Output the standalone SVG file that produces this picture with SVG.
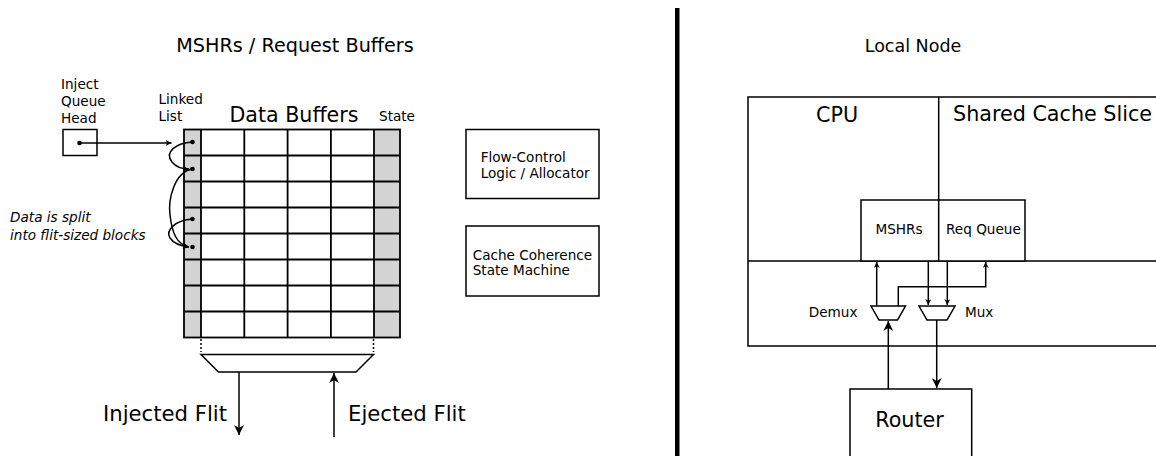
<svg xmlns="http://www.w3.org/2000/svg" width="1156" height="456" viewBox="0 0 1156 456">
  <defs>
    <marker id="arr" viewBox="0 0 10 10" refX="10" refY="5" markerWidth="6" markerHeight="6" markerUnits="userSpaceOnUse" orient="auto">
      <path d="M0,0 L10,5 L0,10 L3,5 Z" fill="#000"/>
    </marker>
    <marker id="arrL" viewBox="0 0 10 10" refX="10" refY="5" markerWidth="10" markerHeight="10" markerUnits="userSpaceOnUse" orient="auto">
      <path d="M0,0 L10,5 L0,10 L3,5 Z" fill="#000"/>
    </marker>
  </defs>
  <style>
    text { font-family: "DejaVu Sans", "Liberation Sans", sans-serif; fill: #000; }
    .box { fill: #fff; stroke: #000; stroke-width: 1.5; }
    .grid { stroke: #000; stroke-width: 1.8; fill: none; }
    .ln { stroke: #000; stroke-width: 1.5; fill: none; }
    .dot { fill: #000; }
    .sm { font-size: 13.6px; }
    .lg { font-size: 20.7px; }
  </style>
  <rect width="1156" height="456" fill="#fff"/>

  <!-- Left panel: MSHRs / request buffers -->
  <text x="295" y="52" font-size="19.2" text-anchor="middle">MSHRs / Request Buffers</text>

  <g id="inject-queue-head">
    <text class="sm" x="61" y="89">Inject</text>
    <text class="sm" x="61" y="106">Queue</text>
    <text class="sm" x="61" y="123">Head</text>
    <rect class="box" x="63" y="129.5" width="34" height="26"/>
    <circle class="dot" cx="79.5" cy="143" r="2.3"/>
  </g>

  <g id="data-buffers">
    <text class="sm" x="158.5" y="104">Linked</text>
    <text class="sm" x="158.5" y="121">List</text>
    <text x="294" y="122" font-size="20.6" text-anchor="middle">Data Buffers</text>
    <text class="sm" x="379" y="121">State</text>
    <rect x="184" y="129.5" width="17" height="208" fill="#d3d3d3"/>
    <rect x="374" y="129.5" width="26" height="208" fill="#d3d3d3"/>
    <g class="grid">
      <rect x="184" y="129.5" width="216" height="208"/>
      <path d="M201,129.5V337.5 M244.3,129.5V337.5 M287.6,129.5V337.5 M330.9,129.5V337.5 M374,129.5V337.5"/>
      <path d="M184,155.5H400 M184,181.5H400 M184,207.5H400 M184,233.5H400 M184,259.5H400 M184,285.5H400 M184,311.5H400"/>
    </g>
    <circle class="dot" cx="192.5" cy="142" r="2.3"/>
    <circle class="dot" cx="192.5" cy="169" r="2.3"/>
    <circle class="dot" cx="192.5" cy="219" r="2.3"/>
    <circle class="dot" cx="192.5" cy="247" r="2.3"/>
    <path d="M201,339V352 M373.5,339V352" stroke="#000" stroke-width="1.5" stroke-dasharray="2,2"/>
  </g>

  <g id="flit-mux">
    <path class="box" d="M201,354.5H373.5L356,372H218.5Z"/>
  </g>

  <g id="labels-left">
    <text class="sm" x="10" y="222" font-style="italic">Data is split</text>
    <text class="sm" x="10" y="240" font-style="italic">into flit-sized blocks</text>
    <text x="103" y="421" font-size="21.2">Injected Flit</text>
    <text x="348" y="421" font-size="21.2">Ejected Flit</text>
  </g>

  <g id="flow-control">
    <rect class="box" x="466" y="129.5" width="133" height="69"/>
    <text class="sm" x="480.7" y="162">Flow-Control</text>
    <text class="sm" x="480.7" y="177.5">Logic / Allocator</text>
  </g>

  <g id="coherence-fsm">
    <rect class="box" x="466" y="226" width="133" height="70"/>
    <text class="sm" x="472.7" y="259.5">Cache Coherence</text>
    <text class="sm" x="472.7" y="274.5">State Machine</text>
  </g>

  <!-- Divider between panels -->
  <rect x="675" y="8" width="4.5" height="448" fill="#000"/>

  <!-- Right panel: local node -->
  <text x="913" y="52" font-size="17.5" text-anchor="middle">Local Node</text>

  <g id="local-node">
    <rect class="box" x="748" y="97" width="420" height="249"/>
    <path class="ln" d="M748,261H1168 M938.7,97V261"/>
  </g>
  <g id="cpu">
    <text class="lg" x="837" y="121.5" text-anchor="middle">CPU</text>
  </g>
  <g id="shared-cache">
    <text class="lg" x="953" y="120.5">Shared Cache Slice</text>
  </g>
  <g id="mshrs">
    <rect class="box" x="861" y="200" width="77.7" height="61"/>
    <text class="sm" x="899" y="233.5" text-anchor="middle">MSHRs</text>
  </g>
  <g id="req-queue">
    <rect class="box" x="938.7" y="200" width="86.3" height="61"/>
    <text class="sm" x="946" y="233.5">Req Queue</text>
  </g>
  <g id="demux">
    <path class="box" d="M871,306H905.5L897.5,320H879Z"/>
    <text class="sm" x="857.5" y="317" text-anchor="end">Demux</text>
  </g>
  <g id="mux">
    <path class="box" d="M919,306H955L947,320H927Z"/>
    <text class="sm" x="965" y="317">Mux</text>
  </g>
  <g id="router">
    <rect class="box" x="850" y="389" width="121.7" height="80"/>
    <text class="lg" x="909.5" y="427" text-anchor="middle">Router</text>
  </g>

  <g id="connectors">
    <!-- queue head pointer into the linked list -->
    <path class="ln" d="M81,143H171.5" marker-end="url(#arr)"/>
    <!-- linked list chain -->
    <path class="ln" d="M192.5,142C176,143 164,152 172,162C176,167 182,169 189,169" marker-end="url(#arr)"/>
    <path class="ln" d="M192.5,169C174,172 168,200 170,215C172,232 176,244 189,247" marker-end="url(#arr)"/>
    <path class="ln" d="M192.5,219C176,220 165,230 170,238C174,244 181,246 189,247" marker-end="url(#arr)"/>
    <!-- injected / ejected flits -->
    <path class="ln" d="M239,372V435" marker-end="url(#arrL)"/>
    <path class="ln" d="M334,437V373" marker-end="url(#arrL)"/>
    <!-- local node datapath -->
    <path class="ln" d="M876.7,306V262" marker-end="url(#arr)"/>
    <path class="ln" d="M898.3,306V286.7H985.7V262" marker-end="url(#arr)"/>
    <path class="ln" d="M928.3,261V305" marker-end="url(#arr)"/>
    <path class="ln" d="M947.3,261V305" marker-end="url(#arr)"/>
    <path class="ln" d="M936.7,320V388" marker-end="url(#arrL)"/>
    <path class="ln" d="M888.3,389V321" marker-end="url(#arrL)"/>
  </g>
</svg>
